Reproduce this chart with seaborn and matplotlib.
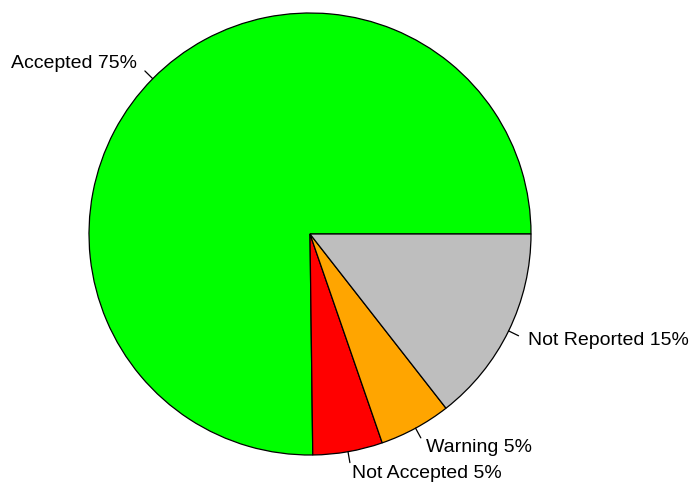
import numpy as np
import matplotlib
matplotlib.use("Agg")
import matplotlib.pyplot as plt
import seaborn as sns

categories = ["Accepted", "Not Accepted", "Warning", "Not Reported"]
values = [75.2, 5.1, 5.25, 14.45]
label_pct = [75, 5, 5, 15]
colors = ["#00FF00", "#FF0000", "#FFA500", "#BEBEBE"]

sns.set_style("white")
plt.rcParams['font.family'] = ['Liberation Sans', 'DejaVu Sans']
plt.rcParams['text.color'] = 'black'

fig = plt.figure(figsize=(6.91, 4.83), dpi=100)
ax = fig.add_axes([0, 0, 1, 1])
ax.pie(values, colors=colors, startangle=0, counterclock=True, radius=1,
       wedgeprops=dict(edgecolor="black", linewidth=0.9))
ax.set_aspect("auto")
cx, cy, r = 310, 234, 221
ax.set_xlim(-cx / r, (691 - cx) / r)
ax.set_ylim(-(483 - cy) / r, cy / r)
ax.axis("off")

total = sum(values)
cum = np.cumsum([0] + values)
for i, name in enumerate(categories):
    mid = np.deg2rad(360 * (cum[i] + cum[i + 1]) / 2 / total)
    c, s = np.cos(mid), np.sin(mid)
    ax.plot([c, 1.05 * c], [s, 1.05 * s], color="black", lw=0.9)
    ax.text(1.1 * c, 1.1 * s, f"{name} {label_pct[i]}%", color="black",
            ha="left" if c > 0 else "right", va="center", fontsize=14)

fig.savefig("out.png", dpi=100)
